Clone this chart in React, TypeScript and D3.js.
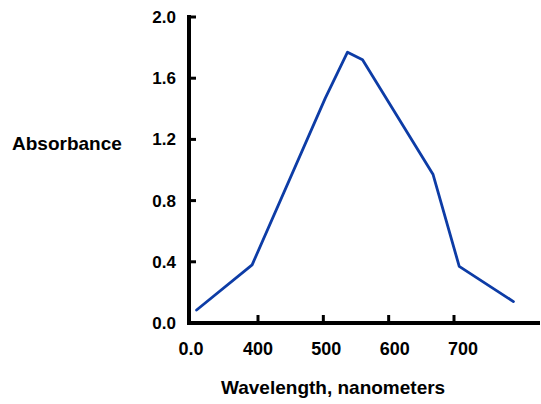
import React from "react";
import * as d3 from "d3";

const wavelengths = [306, 391, 503, 537, 560, 668, 708, 791];
const absorbance = [0.085, 0.38, 1.47, 1.77, 1.72, 0.97, 0.37, 0.14];
const yTicks = [0.0, 0.4, 0.8, 1.2, 1.6, 2.0];
const xTicks = [400, 500, 600, 700];

export default function App() {
  const W = 541, H = 404;
  const x = d3.scaleLinear().domain([400, 700]).range([258, 454]);
  const y = d3.scaleLinear().domain([0, 2]).range([323, 17]);
  const x0 = 189;
  const xEnd = 540;
  const pts: [number, number][] = wavelengths.map((w, i) => [x(w), y(absorbance[i])]);
  const line = d3.line();
  const font = "'Liberation Sans', Arial, sans-serif";
  return (
    <svg width={W} height={H} style={{ position: "absolute", left: 0, top: 0, background: "#fff" }}>
      <rect width={W} height={H} fill="#fff" />
      <line x1={x0} y1={y(2) - 2} x2={x0} y2={y(0) + 2} stroke="#000" strokeWidth={4} />
      <line x1={x0 - 2} y1={y(0)} x2={xEnd} y2={y(0)} stroke="#000" strokeWidth={4} />
      {yTicks.map((t) => (
        <g key={"y" + t}>
          <line x1={x0} x2={x0 + 7} y1={y(t)} y2={y(t)} stroke="#000" strokeWidth={3} />
          <text x={176} y={y(t)} dy="0.35em" textAnchor="end" fontFamily={font} fontWeight="bold" fontSize={17}>
            {t.toFixed(1)}
          </text>
        </g>
      ))}
      {xTicks.map((t) => (
        <g key={"x" + t}>
          <line x1={x(t)} x2={x(t)} y1={y(0)} y2={y(0) - 8} stroke="#000" strokeWidth={3} />
          <text x={x(t) + (t - 400) * 0.03} y={355} textAnchor="middle" fontFamily={font} fontWeight="bold" fontSize={18}>
            {t}
          </text>
        </g>
      ))}
      <text x={191} y={355} textAnchor="middle" fontFamily={font} fontWeight="bold" fontSize={18}>0.0</text>
      <path d={line(pts) || ""} fill="none" stroke="#0d3ca6" strokeWidth={2.8} strokeLinejoin="round" strokeLinecap="round" />
      <text x={12} y={150} fontFamily={font} fontWeight="bold" fontSize={19}>Absorbance</text>
      <text x={221} y={394} fontFamily={font} fontWeight="bold" fontSize={19}>Wavelength, nanometers</text>
    </svg>
  );
}
